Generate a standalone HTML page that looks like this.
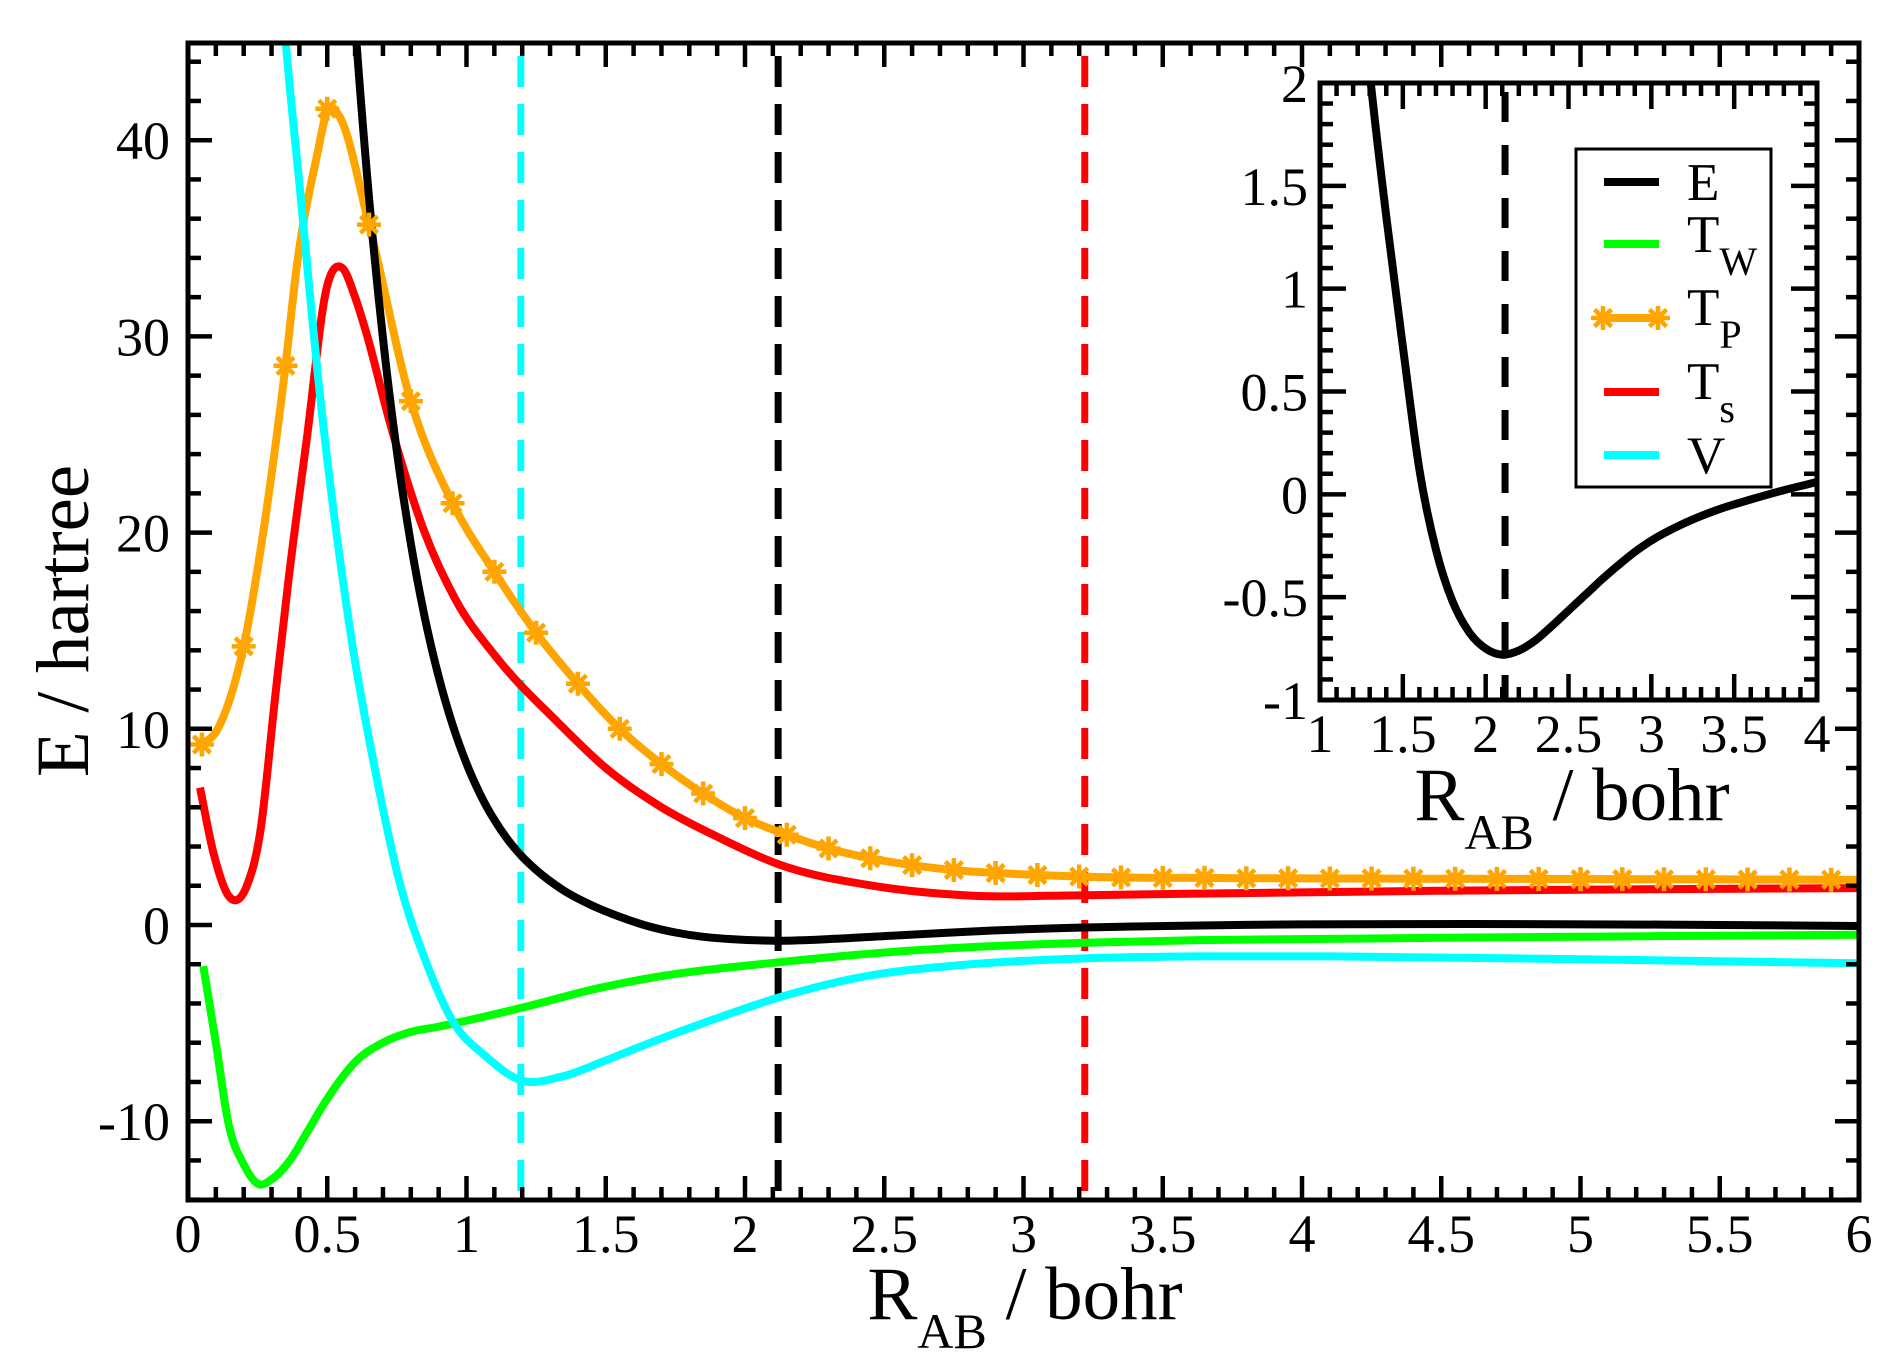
<!DOCTYPE html>
<html><head><meta charset="utf-8">
<style>
html,body{margin:0;padding:0;background:#fff;}
svg{display:block;}
text{font-family:"Liberation Serif",serif;fill:#000;}
</style></head>
<body>
<svg id="s" width="1903" height="1366" viewBox="0 0 1903 1366" xmlns="http://www.w3.org/2000/svg">
<defs>
<clipPath id="cm"><rect x="188" y="43" width="1671" height="1157"/></clipPath>
<clipPath id="ci"><rect x="1320" y="83" width="497" height="617"/></clipPath>
</defs>
<rect width="1903" height="1366" fill="#fff"/>
<g id="main"></g>
<g id="inset"></g>
<text x="1025" y="1319" font-size="75" text-anchor="middle"><tspan>R</tspan><tspan font-size="50" dy="29">AB</tspan><tspan dy="-29"> / bohr</tspan></text>
<text transform="translate(88,621) rotate(-90)" font-size="75" text-anchor="middle">E / hartree</text>
<text x="1572" y="820" font-size="75" text-anchor="middle"><tspan>R</tspan><tspan font-size="50" dy="29">AB</tspan><tspan dy="-29"> / bohr</tspan></text>
</svg>
<script>
var NS="http://www.w3.org/2000/svg";
function el(p,t,a,txt){var e=document.createElementNS(NS,t);for(var k in a)e.setAttribute(k,a[k]);if(txt!==undefined)e.textContent=txt;p.appendChild(e);return e;}
function spath(pts,fx,fy){
 var n=pts.length,m=[];
 for(var i=0;i<n;i++){
  if(i==0){m.push((pts[1][1]-pts[0][1])/(pts[1][0]-pts[0][0]));continue;}
  if(i==n-1){m.push((pts[n-1][1]-pts[n-2][1])/(pts[n-1][0]-pts[n-2][0]));continue;}
  var h0=pts[i][0]-pts[i-1][0],h1=pts[i+1][0]-pts[i][0];
  var d0=(pts[i][1]-pts[i-1][1])/h0,d1=(pts[i+1][1]-pts[i][1])/h1;
  m.push((d0*h1+d1*h0)/(h0+h1));
 }
 var f=function(v){return v.toFixed(1)};
 var d="M"+f(fx(pts[0][0]))+","+f(fy(pts[0][1]));
 for(var i=0;i<n-1;i++){
  var h=pts[i+1][0]-pts[i][0];
  d+=" C"+f(fx(pts[i][0]+h/3))+","+f(fy(pts[i][1]+m[i]*h/3))+" "+f(fx(pts[i+1][0]-h/3))+","+f(fy(pts[i+1][1]-m[i+1]*h/3))+" "+f(fx(pts[i+1][0]))+","+f(fy(pts[i+1][1]));
 }
 return d;}
var X=function(x){return 188+278.5*x},Y=function(y){return 925-19.62*y};
var XI=function(x){return 1320+(x-1)*165.67},YI=function(y){return 700-(y+1)*205.67};
var M=document.getElementById("main"),I=document.getElementById("inset");
var cm=el(M,"g",{"clip-path":"url(#cm)"});
function dashed(g,x,col,y1,y2){el(g,"line",{x1:x,x2:x,y1:y1,y2:y2,stroke:col,"stroke-width":7,"stroke-dasharray":"31 17"});}
dashed(cm,X(1.195),"#00ffff",56,1200);
dashed(cm,X(2.119),"#000",56,1200);
dashed(cm,X(3.22),"#ff0000",56,1200);
var E=[];
for(var x=0.5;x<=1.26;x+=0.05){E.push([x,36.6*Math.exp(-4.3*(x-0.653))]);}
E=E.concat([[1.35,1.75],[1.45,1.0],[1.55,0.42],[1.65,-0.05],[1.75,-0.38],[1.85,-0.6],[1.95,-0.72],[2.11,-0.8],[2.3,-0.72],[2.5,-0.565],[2.7,-0.415],[2.9,-0.275],[3.2,-0.135],[3.6,-0.03],[4,0.03],[4.6,0.05],[5.3,0.02],[6,-0.05]]);
var TW=[[0.055,-2.1],[0.1,-6],[0.145,-10.1],[0.2,-12.2],[0.252,-13.2],[0.306,-12.9],[0.366,-12],[0.43,-10.5],[0.498,-8.9],[0.606,-6.9],[0.7,-6.0],[0.8,-5.45],[0.893,-5.2],[1.192,-4.24],[1.48,-3.2],[1.66,-2.7],[2.12,-1.9],[2.6,-1.3],[3.22,-0.9],[3.63,-0.77],[4.5,-0.65],[6,-0.5]];
var TS=[[0.043,7.0],[0.091,3.7],[0.145,1.5],[0.21,1.95],[0.259,4.7],[0.312,11.5],[0.36,17.5],[0.426,24.7],[0.5,32.6],[0.553,33.5],[0.6,32],[0.64,30.2],[0.725,25.6],[0.85,20.0],[0.96,16.6],[1.11,13.6],[1.33,10.3],[1.5,8.0],[1.7,6.0],[1.9,4.5],[2.12,3.1],[2.46,2.0],[2.81,1.5],[3.22,1.52],[3.63,1.6],[4.5,1.75],[6,1.88]];
var V=[[0.3,55],[0.348,45.5],[0.402,37.5],[0.474,27],[0.589,14.4],[0.676,7.6],[0.763,2],[0.85,-1.7],[0.946,-4.8],[1.07,-6.7],[1.192,-7.9],[1.348,-7.7],[1.5,-6.9],[1.66,-6.0],[1.85,-5.0],[2.12,-3.7],[2.4,-2.7],[2.81,-2.0],[3.22,-1.7],[3.63,-1.6],[4.12,-1.6],[5.0,-1.75],[6,-1.95]];
var TPm=[9.2,14.2,28.5,41.6,35.7,26.7,21.5,18.0,14.9,12.3,10.0,8.2,6.7,5.45,4.6,3.9,3.4,3.05,2.8,2.65,2.55,2.47,2.42,2.4,2.4,2.38,2.38,2.37,2.37,2.36,2.36,2.35,2.35,2.34,2.34,2.33,2.33,2.32,2.32,2.31];
var TP=[];
for(var k=0;k<TPm.length;k++){TP.push([0.05+0.15*k,TPm[k]]);}
var TPl=[[0.05,9.2],[0.103,9.9],[0.15,11.5],[0.2,14.2],[0.27,20],[0.35,28.5],[0.39,33.5],[0.463,39.2],[0.503,41.6],[0.54,41.3],[0.65,35.7]].concat(TP.slice(5)).concat([[6,2.3]]);
var SW=8;
function curve(g,d,col){el(g,"path",{d:d,fill:"none",stroke:col,"stroke-width":SW,"stroke-linejoin":"round"});}
curve(cm,spath(TS,X,Y),"#ff0000");
curve(cm,spath(TPl,X,Y),"#ffa500");
curve(cm,spath(E,X,Y),"#000");
curve(cm,spath(TW,X,Y),"#00ff00");
curve(cm,spath(V,X,Y),"#00ffff");
function star(g,cx,cy){var r=12,d="";for(var a=0;a<4;a++){var t=a*Math.PI/4;var dx=r*Math.cos(t),dy=r*Math.sin(t);d+="M"+(cx-dx).toFixed(1)+","+(cy-dy).toFixed(1)+"L"+(cx+dx).toFixed(1)+","+(cy+dy).toFixed(1);}
 el(g,"path",{d:d,stroke:"#ffa500","stroke-width":4.5,fill:"none"});}
TP.forEach(function(p){star(cm,X(p[0]),Y(p[1]));});
var T=el(M,"g",{stroke:"#000","stroke-width":4.5});
for(var i=0;i<=60;i++){var x=X(i/10),L=(i%5==0)?24:13;el(T,"line",{x1:x,x2:x,y1:1200,y2:1200-L});el(T,"line",{x1:x,x2:x,y1:43,y2:43+L});}
for(var v=-14;v<=44;v+=2){var y=Y(v),L=(v%10==0)?24:13;el(T,"line",{x1:188,x2:188+L,y1:y,y2:y});el(T,"line",{x1:1859,x2:1859-L,y1:y,y2:y});}
el(M,"rect",{x:188,y:43,width:1671,height:1157,fill:"none",stroke:"#000","stroke-width":5});
["0","0.5","1","1.5","2","2.5","3","3.5","4","4.5","5","5.5","6"].forEach(function(s,i){el(M,"text",{x:X(i*0.5),y:1252,"font-size":54,"text-anchor":"middle"},s);});
[-10,0,10,20,30,40].forEach(function(v){el(M,"text",{x:170,y:Y(v)+19,"font-size":54,"text-anchor":"end"},String(v));});
el(I,"rect",{x:1320,y:83,width:497,height:617,fill:"#fff"});
var ci=el(I,"g",{"clip-path":"url(#ci)"});
el(ci,"line",{x1:XI(2.117),x2:XI(2.117),y1:92,y2:700,stroke:"#000","stroke-width":7,"stroke-dasharray":"30 23"});
var EI=[[1.25,2.45],[1.3,2.05],[1.4,1.35],[1.5,0.72],[1.6,0.12],[1.7,-0.27],[1.8,-0.52],[1.9,-0.67],[2.0,-0.75],[2.1,-0.78],[2.2,-0.76],[2.3,-0.71],[2.4,-0.64],[2.5,-0.565],[2.6,-0.49],[2.7,-0.415],[2.8,-0.345],[2.9,-0.28],[3.0,-0.225],[3.2,-0.14],[3.4,-0.075],[3.6,-0.025],[3.8,0.02],[4.0,0.06]];
curve(ci,spath(EI,XI,YI),"#000");
var TI=el(I,"g",{stroke:"#000","stroke-width":4.5});
for(var i=10;i<=40;i++){var x=XI(i/10),L=(i%5==0)?26:13;el(TI,"line",{x1:x,x2:x,y1:700,y2:700-L});el(TI,"line",{x1:x,x2:x,y1:83,y2:83+L});}
for(var i=-10;i<=20;i++){var y=YI(i/10),L=(i%5==0)?26:13;el(TI,"line",{x1:1320,x2:1320+L,y1:y,y2:y});el(TI,"line",{x1:1817,x2:1817-L,y1:y,y2:y});}
el(I,"rect",{x:1320,y:83,width:497,height:617,fill:"none",stroke:"#000","stroke-width":5});
["1","1.5","2","2.5","3","3.5","4"].forEach(function(s,i){el(I,"text",{x:XI(1+i*0.5),y:752,"font-size":54,"text-anchor":"middle"},s);});
["-1","-0.5","0","0.5","1","1.5","2"].forEach(function(s,i){el(I,"text",{x:1308,y:YI(-1+i*0.5)+19,"font-size":54,"text-anchor":"end"},s);});
el(I,"rect",{x:1576,y:149,width:195,height:338,fill:"#fff",stroke:"#000","stroke-width":3});
[["#000",182],["#00ff00",244],["#ffa500",318],["#ff0000",392],["#00ffff",455]].forEach(function(c){el(I,"line",{x1:1604,x2:1659,y1:c[1],y2:c[1],stroke:c[0],"stroke-width":8});});
star(I,1603,318);star(I,1658,318);
el(I,"text",{x:1687,y:200,"font-size":53},"E");
var t1=el(I,"text",{x:1687,y:252,"font-size":53});el(t1,"tspan",{},"T");el(t1,"tspan",{"font-size":40,dy:23},"W");
var t2=el(I,"text",{x:1687,y:325,"font-size":53});el(t2,"tspan",{},"T");el(t2,"tspan",{"font-size":40,dy:23},"P");
var t3=el(I,"text",{x:1687,y:399,"font-size":53});el(t3,"tspan",{},"T");el(t3,"tspan",{"font-size":40,dy:23},"s");
el(I,"text",{x:1687,y:473,"font-size":53},"V");
</script>
</body></html>
